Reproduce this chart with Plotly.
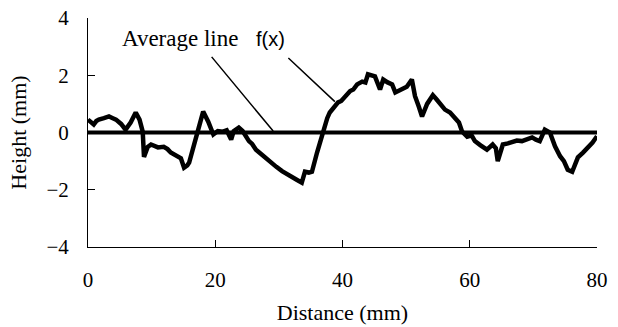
import plotly.graph_objects as go

dist = [0, 0.5, 0.9, 1.3, 1.7, 2.5, 3.3, 3.9, 4.4, 5.2, 5.9, 6.7, 7.5, 8.1, 8.6, 8.8, 9.4, 9.9,
        10.5, 11.0, 11.9, 12.5, 13.0, 14.1, 14.6, 15.1, 15.6, 15.9, 16.5, 17.0, 18.1, 18.9, 19.7,
        20.4, 21.2, 21.8, 22.5, 22.9, 23.7, 24.3, 25.3, 25.8, 26.4, 27.2, 27.8, 28.3, 28.9, 29.6,
        30.5, 31.2, 32.0, 32.8, 33.6, 34.1, 34.7, 35.2, 36.0, 36.9, 37.6, 38.0, 38.4, 39.3, 39.8,
        40.4, 41.2, 41.7, 42.3, 43.1, 43.6, 44.0, 44.6, 45.1, 45.9, 46.4, 47.1, 47.8, 48.3, 49.3,
        50.1, 50.9, 51.4, 52.0, 52.5, 53.3, 54.2, 54.8, 55.5, 56.1, 56.9, 57.7, 58.3, 58.8, 59.6,
        60.3, 60.8, 61.7, 62.7, 63.6, 64.1, 64.4, 64.8, 65.2, 66.0, 66.6, 67.4, 68.2, 69.0, 69.8,
        70.4, 71.0, 71.8, 72.6, 73.4, 74.2, 74.8, 75.4, 76.1, 77.0, 77.8, 78.6, 79.3, 80.0]
height = [0.45, 0.35, 0.28, 0.4, 0.45, 0.5, 0.56, 0.5, 0.45, 0.3, 0.1, 0.35, 0.7, 0.45, 0.03,
          -0.85, -0.5, -0.42, -0.48, -0.52, -0.5, -0.58, -0.7, -0.85, -0.9, -1.23, -1.15, -1.05,
          -0.6, -0.15, 0.73, 0.38, -0.07, 0.05, 0.03, 0.08, -0.25, 0.05, 0.17, 0.05, -0.3, -0.4,
          -0.6, -0.75, -0.87, -0.95, -1.1, -1.2, -1.35, -1.45, -1.57, -1.65, -1.75, -1.37, -1.4,
          -1.37, -0.7, 0.0, 0.5, 0.7, 0.8, 1.05, 1.1, 1.27, 1.45, 1.5, 1.68, 1.78, 1.75, 2.03, 1.98,
          1.96, 1.5, 1.85, 1.75, 1.68, 1.4, 1.5, 1.6, 1.85, 1.27, 0.9, 0.56, 1.0, 1.3, 1.15, 0.95,
          0.8, 0.7, 0.52, 0.35, 0.03, -0.15, -0.1, -0.3, -0.45, -0.6, -0.42, -0.55, -1.0, -0.7,
          -0.42, -0.38, -0.35, -0.28, -0.3, -0.22, -0.17, -0.25, -0.3, 0.1, 0.0, -0.48, -0.83,
          -1.0, -1.3, -1.37, -0.87, -0.7, -0.53, -0.35, -0.13]

avg_x = [0, 80]
avg_y = [0, 0]

x_ticks = [0, 20, 40, 60, 80]
y_ticks = [-4, -2, 0, 2, 4]

serif = "Liberation Serif, Times New Roman, serif"

fig = go.Figure()
fig.add_trace(go.Scatter(x=avg_x, y=avg_y, mode="lines",
                         line=dict(color="black", width=4), showlegend=False))
fig.add_trace(go.Scatter(x=dist, y=height, mode="lines",
                         line=dict(color="black", width=4.5), showlegend=False))

fig.add_annotation(x=14.4, y=3.29, text="Average line", showarrow=False,
                   font=dict(family=serif, size=23, color="black"))
fig.add_annotation(x=28.7, y=3.25, text="f(x)", showarrow=False,
                   font=dict(family="Liberation Sans, Arial, sans-serif", size=20, color="black"))
fig.add_annotation(x=29.1, y=0.05, text=" ", showarrow=True, arrowhead=0, arrowwidth=1.5,
                   arrowcolor="black", ax=-63, ay=-76, font=dict(size=1))
fig.add_annotation(x=38.8, y=1.08, text=" ", showarrow=True, arrowhead=0, arrowwidth=1.5,
                   arrowcolor="black", ax=-48, ay=-45, font=dict(size=1))

fig.update_layout(
    width=618, height=327,
    margin=dict(l=88, r=21, t=18, b=80),
    plot_bgcolor="white", paper_bgcolor="white",
    font=dict(family=serif, size=21, color="black"),
)
fig.update_xaxes(range=[0, 80], tickvals=x_ticks, ticks="inside", ticklen=7, tickcolor="black",
                 showline=True, linecolor="black", linewidth=1, showgrid=False, zeroline=False,
                 ticklabelstandoff=14, automargin=False,
                 title=dict(text="Distance (mm)", font=dict(family=serif, size=22), standoff=13))
fig.update_yaxes(range=[-4, 4], tickvals=y_ticks, ticks="inside", ticklen=7, tickcolor="black",
                 showline=True, linecolor="black", linewidth=1, showgrid=False, zeroline=False,
                 ticklabelstandoff=14, automargin=False,
                 title=dict(text="Height (mm)", font=dict(family=serif, size=22), standoff=13))

fig.write_html("out.html")
